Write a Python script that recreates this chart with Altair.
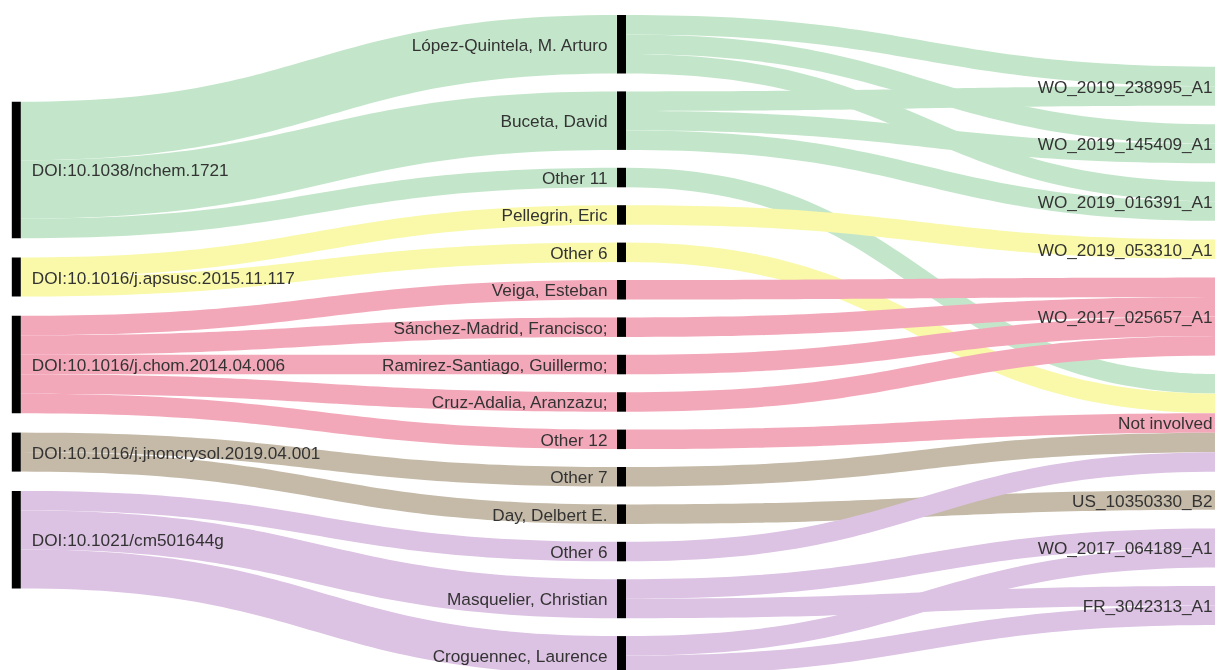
import altair as alt
import pandas as pd
import numpy as np

# ---------------- data ----------------
papers = [
    "DOI:10.1038/nchem.1721",
    "DOI:10.1016/j.apsusc.2015.11.117",
    "DOI:10.1016/j.chom.2014.04.006",
    "DOI:10.1016/j.jnoncrysol.2019.04.001",
    "DOI:10.1021/cm501644g",
]
paper_colors = ["#c3e6ca", "#f9f9a9", "#f3a8ba", "#c5baa8", "#dcc2e3"]

authors = [
    "López-Quintela, M. Arturo",
    "Buceta, David",
    "Other 11",
    "Pellegrin, Eric",
    "Other 6",
    "Veiga, Esteban",
    "Sánchez-Madrid, Francisco;",
    "Ramirez-Santiago, Guillermo;",
    "Cruz-Adalia, Aranzazu;",
    "Other 12",
    "Other 7",
    "Day, Delbert E.",
    "Other 6",
    "Masquelier, Christian",
    "Croguennec, Laurence",
]
author_paper = [0, 0, 0, 1, 1, 2, 2, 2, 2, 2, 3, 3, 4, 4, 4]
paper_author_values = [3, 3, 1, 1, 1, 1, 1, 1, 1, 1, 1, 1, 1, 2, 2]

patents = [
    "WO_2019_238995_A1",
    "WO_2019_145409_A1",
    "WO_2019_016391_A1",
    "WO_2019_053310_A1",
    "WO_2017_025657_A1",
    "Not involved",
    "US_10350330_B2",
    "WO_2017_064189_A1",
    "FR_3042313_A1",
]
link_author = [0, 0, 0, 1, 1, 1, 2, 3, 4, 5, 6, 7, 8, 9, 10, 11, 12, 13, 13, 14, 14]
link_patent = [0, 1, 2, 0, 1, 2, 5, 3, 5, 4, 4, 4, 4, 5, 5, 6, 5, 7, 8, 7, 8]
link_value = [1] * 21

# ---------------- layout parameters ----------------
K = 19.5                      # px per unit
NODE_W = 9
COL_X0 = [11.8, 617.0, 1221.6]
COL_TOP = [101.7, 15.0, 66.7]
COL_PAD = [19.3, 17.9, 18.6]
LABEL_OFF = [11.0, 9.5, 9.0]

# node values
left_vals = [0] * len(papers)
for a, p in enumerate(author_paper):
    left_vals[p] += paper_author_values[a]
mid_out = [0] * len(authors)
for a, v in zip(link_author, link_value):
    mid_out[a] += v
mid_vals = [max(i, o) for i, o in zip(paper_author_values, mid_out)]
right_vals = [0] * len(patents)
for t, v in zip(link_patent, link_value):
    right_vals[t] += v

columns = [(papers, left_vals), (authors, mid_vals), (patents, right_vals)]
nodes = {}
node_rows = []
for c, (labels, vals) in enumerate(columns):
    y = COL_TOP[c]
    for i, (lab, v) in enumerate(zip(labels, vals)):
        y0, y1 = y, y + v * K
        nodes[(c, i)] = dict(x0=COL_X0[c], x1=COL_X0[c] + NODE_W, y0=y0, y1=y1)
        node_rows.append(dict(col=c, label=lab, x0=COL_X0[c], x1=COL_X0[c] + NODE_W,
                              y0=y0, y1=y1, ym=(y0 + y1) / 2,
                              lx=(COL_X0[c] + NODE_W + LABEL_OFF[c]) if c == 0 else (COL_X0[c] - LABEL_OFF[c])))
        y = y1 + COL_PAD[c]
nodes_df = pd.DataFrame(node_rows)

# links
links = []
for a, p in enumerate(author_paper):
    links.append(dict(s=(0, p), t=(1, a), v=paper_author_values[a], color=paper_colors[p]))
for a, t, v in zip(link_author, link_patent, link_value):
    links.append(dict(s=(1, a), t=(2, t), v=v, color=paper_colors[author_paper[a]]))

# stacking offsets (outgoing sorted by target y, incoming sorted by source y)
for key in nodes:
    outs = sorted([l for l in links if l["s"] == key], key=lambda l: nodes[l["t"]]["y0"])
    y = nodes[key]["y0"]
    for l in outs:
        l["sy"] = y + l["v"] * K / 2
        y += l["v"] * K
    ins = sorted([l for l in links if l["t"] == key], key=lambda l: nodes[l["s"]]["y0"])
    y = nodes[key]["y0"]
    for l in ins:
        l["ty"] = y + l["v"] * K / 2
        y += l["v"] * K

rows = []
ts = np.linspace(0, 1, 60)
for i, l in enumerate(links):
    x0 = nodes[l["s"]]["x1"]
    x1 = nodes[l["t"]]["x0"]
    xm = (x0 + x1) / 2
    y0, y1 = l["sy"], l["ty"]
    for t in ts:
        u = 1 - t
        x = u**3 * x0 + 3 * u**2 * t * xm + 3 * u * t**2 * xm + t**3 * x1
        y = u**3 * y0 + 3 * u**2 * t * y0 + 3 * u * t**2 * y1 + t**3 * y1
        rows.append(dict(link=i, t=t, x=x, y=y, w=l["v"] * K, color=l["color"]))
links_df = pd.DataFrame(rows)

# ---------------- chart ----------------
W, H = 1207, 662
xs = alt.Scale(domain=[8, 8 + W], zero=False, nice=False)
ys = alt.Scale(domain=[8, 8 + H], zero=False, nice=False, reverse=True)

link_layer = alt.Chart(links_df).mark_line(clip=True, blend="multiply").encode(
    x=alt.X("x:Q", scale=xs, axis=None),
    y=alt.Y("y:Q", scale=ys, axis=None),
    detail="link:N",
    order="t:Q",
    stroke=alt.Stroke("color:N", scale=None),
    strokeWidth=alt.StrokeWidth("w:Q", scale=None),
)

node_layer = alt.Chart(nodes_df).mark_rect(clip=True, color="black").encode(
    x=alt.X("x0:Q", scale=xs, axis=None),
    x2="x1:Q",
    y=alt.Y("y0:Q", scale=ys, axis=None),
    y2="y1:Q",
)

font = "Liberation Sans, Arial, sans-serif"
text_style = dict(baseline="middle", font=font, fontSize=17.2, color="#333", dy=1.5)
left_text = alt.Chart(nodes_df[nodes_df.col == 0]).mark_text(align="left", **text_style).encode(
    x=alt.X("lx:Q", scale=xs, axis=None),
    y=alt.Y("ym:Q", scale=ys, axis=None),
    text="label:N",
)
right_text = alt.Chart(nodes_df[nodes_df.col > 0]).mark_text(align="right", **text_style).encode(
    x=alt.X("lx:Q", scale=xs, axis=None),
    y=alt.Y("ym:Q", scale=ys, axis=None),
    text="label:N",
)

chart = alt.layer(link_layer, node_layer, left_text, right_text).properties(
    width=W, height=H, padding=0, autosize=alt.AutoSizeParams(type="none")
).configure_view(stroke=None)

chart.save("out.html", embed_options={"renderer": "svg", "actions": False})
